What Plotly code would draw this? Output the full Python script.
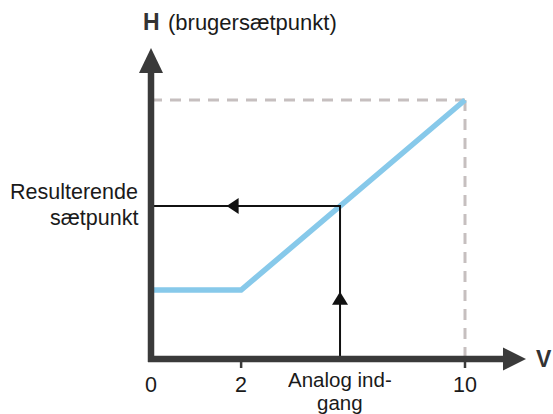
import numpy as np
import plotly.graph_objects as go

# Characteristic: analog input (V) -> resulting setpoint H
tick_pos = [0, 2.87, 10]          # diagram positions of the V ticks
tick_text = ["0", "2", "10"]
curve_v = [0, 2.87, 10]           # flat until 2 V, then linear to max at 10 V
curve_h = [2.66, 2.66, 10]
h_max = 10
analog_in = 6.02                  # example input value

setpoint = float(np.interp(analog_in, curve_v, curve_h))

W, H = 553, 414
PX_X = 31.4        # pixels per x unit
PX_Y = 25.9        # pixels per y unit
X0, Y0 = 151, 359  # pixel position of the origin

x_range = [-X0 / PX_X, (W - X0) / PX_X]
y_range = [-(H - Y0) / PX_Y, Y0 / PX_Y]

def dx(px):
    return px / PX_X

def dy(px):
    return px / PX_Y

AXIS = "#3a3a3a"
INK = "#111111"
BLUE = "#87c9ea"
DASH = "#c6bfbf"
FONT = "Liberation Sans, Arial, sans-serif"

fig = go.Figure()

shapes = []

def tri(points, color):
    path = "M " + " L ".join(f"{x},{y}" for x, y in points) + " Z"
    shapes.append(dict(type="path", path=path, xref="x", yref="y",
                       fillcolor=color, line=dict(width=0), layer="above"))

# dashed guide lines at the maximum
shapes.append(dict(type="line", x0=0, x1=tick_pos[-1], y0=h_max, y1=h_max,
                   line=dict(color=DASH, width=3, dash="11px,8px"), layer="below"))
shapes.append(dict(type="line", x0=tick_pos[-1], x1=tick_pos[-1], y0=h_max, y1=0,
                   line=dict(color=DASH, width=3, dash="11px,8px"), layer="below"))

fig.add_trace(go.Scatter(x=curve_v, y=curve_h, mode="lines",
                         line=dict(color=BLUE, width=5.5), hoverinfo="skip"))

# reading lines: input up to the curve, across to the H axis
fig.add_trace(go.Scatter(x=[analog_in, analog_in, 0], y=[0, setpoint, setpoint],
                         mode="lines", line=dict(color=INK, width=2),
                         hoverinfo="skip"))

# axes with arrow heads
y_top = 11.04
x_end = 11.21
shapes.append(dict(type="line", x0=0, x1=0, y0=-dy(3), y1=y_top,
                   line=dict(color=AXIS, width=6.5)))
shapes.append(dict(type="line", x0=-dx(3), x1=x_end, y0=0, y1=0,
                   line=dict(color=AXIS, width=6.5)))
tri([(-dx(12), y_top), (dx(12), y_top), (0, y_top + dy(25))], AXIS)
tri([(x_end, dy(11.5)), (x_end, -dy(11.5)), (x_end + dx(23), 0)], AXIS)

# tick marks below the V axis
for p in tick_pos[1:]:
    shapes.append(dict(type="line", x0=p, x1=p, y0=0, y1=-dy(9),
                       line=dict(color=AXIS, width=2.5)))

# direction arrows on the reading lines
tip_x = analog_in * 0.40
tri([(tip_x, setpoint), (tip_x + dx(12), setpoint + dy(8)),
     (tip_x + dx(12), setpoint - dy(8))], INK)
tip_y = setpoint * 0.44
tri([(analog_in, tip_y), (analog_in - dx(8), tip_y - dy(13)),
     (analog_in + dx(8), tip_y - dy(13))], INK)

annotations = []

def label(text, x, y, xanchor="center", yanchor="middle", size=21, bold=False,
          box_h=None):
    ann = dict(
        text=f"<b>{text}</b>" if bold else text, x=x, y=y, xref="x", yref="y",
        xanchor=xanchor, yanchor=yanchor, showarrow=False, borderpad=0,
        font=dict(family=FONT, size=size, color="#1a1a1a" if not bold else "#333333"))
    if box_h is not None:
        ann["height"] = box_h
        ann["valign"] = "middle"
    annotations.append(ann)

label("H", 0, y_range[1] - dy(22), size=23, bold=True)
label("(brugersætpunkt)", dx(16), y_range[1] - dy(22), xanchor="left", size=22)
label("Resulterende", -dx(12), setpoint + dy(14), xanchor="right", size=21.5)
label("sætpunkt", -dx(12), setpoint - dy(12), xanchor="right", size=21.5)
for p, t in zip(tick_pos, tick_text):
    label(t, p, -dy(26), size=21.5)
label("Analog ind-", analog_in, -dy(20.5), size=20.5, box_h=23)
label("gang", analog_in, -dy(43.5), size=20.5, box_h=23)
label("V", x_end + dx(32), 0, xanchor="left", size=23, bold=True)

fig.update_layout(
    width=W, height=H, autosize=False,
    margin=dict(l=0, r=0, t=0, b=0),
    paper_bgcolor="white", plot_bgcolor="white",
    showlegend=False,
    xaxis=dict(range=x_range, visible=False, fixedrange=True),
    yaxis=dict(range=y_range, visible=False, fixedrange=True),
    shapes=shapes, annotations=annotations,
)

fig.write_html("out.html")
